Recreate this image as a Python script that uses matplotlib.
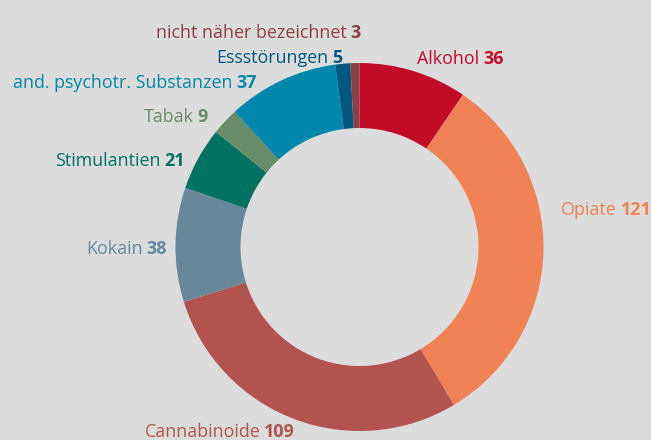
import matplotlib.pyplot as plt

# Daten
categories = ["Alkohol", "Opiate", "Cannabinoide", "Kokain", "Stimulantien",
              "Tabak", "and. psychotr. Substanzen", "Essstörungen",
              "nicht näher bezeichnet"]
values = [36, 121, 109, 38, 21, 9, 37, 5, 3]

# Stil
colors = ["#c20b26", "#f08255", "#b25350", "#67889b", "#007262",
          "#688c68", "#0087ab", "#005880", "#8c3f45"]
# Label-Anker (x, Grundlinie von oben, Ausrichtung) in Pixeln
label_pos = {
    "Alkohol": (417, 64, "left"),
    "Opiate": (561, 215, "left"),
    "Cannabinoide": (295, 437, "right"),
    "Kokain": (167, 254, "right"),
    "Stimulantien": (185, 166, "right"),
    "Tabak": (208, 122, "right"),
    "and. psychotr. Substanzen": (257, 88, "right"),
    "Essstörungen": (342, 63, "right"),
    "nicht näher bezeichnet": (361, 38, "right"),
}

W, H = 651, 440
bg = "#dcdcdc"
plt.rcParams['font.family'] = ['Open Sans', 'DejaVu Sans']

fig = plt.figure(figsize=(W / 100, H / 100), dpi=100, facecolor=bg)
ax = fig.add_axes([0, 0, 1, 1])
ax.set_facecolor(bg)

outer = 184
ax.pie(values, colors=colors, startangle=90, counterclock=False,
       radius=outer, center=(359.5, H - 247),
       wedgeprops=dict(width=outer - 119, linewidth=0))
ax.set_xlim(0, W)
ax.set_ylim(0, H)
ax.axis("off")

renderer = fig.canvas.get_renderer()
fs = 12.9
gap = 4
for name, val, col in zip(categories, values, colors):
    x, y, ha = label_pos[name]
    y = H - y
    if ha == "right":
        t = ax.text(x, y, str(val), color=col, fontsize=fs, fontweight="bold",
                    ha="right", va="baseline")
        w = t.get_window_extent(renderer).width
        ax.text(x - w - gap, y, name, color=col, fontsize=fs,
                ha="right", va="baseline")
    else:
        t = ax.text(x, y, name, color=col, fontsize=fs,
                    ha="left", va="baseline")
        w = t.get_window_extent(renderer).width
        ax.text(x + w + gap, y, str(val), color=col, fontsize=fs,
                fontweight="bold", ha="left", va="baseline")

fig.savefig("out.png", dpi=100, facecolor=bg)
